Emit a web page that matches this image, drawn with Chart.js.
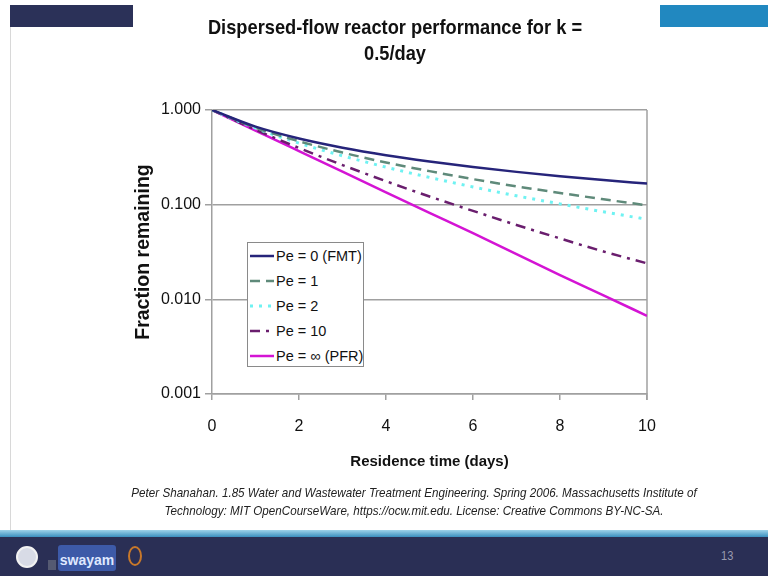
<!DOCTYPE html>
<html>
<head>
<meta charset="utf-8">
<script src="https://cdn.jsdelivr.net/npm/chart.js@4/dist/chart.umd.min.js"></script>
<style>
  html, body { margin:0; padding:0; background:#fff; }
  #wrap { position:relative; width:768px; height:576px; overflow:hidden; background:#fff; }
  #c { position:absolute; left:0; top:0; }
  .bar { position:absolute; }
  #title { position:absolute; left:95px; width:600px; top:14px; text-align:center; white-space:nowrap;
    font-family:"Liberation Sans",Arial,sans-serif; font-weight:bold;
    font-size:21px; line-height:26px; color:#111; transform:scaleX(0.87); transform-origin:50% 0; }
  #foot { position:absolute; left:64px; width:700px; top:484px; text-align:center; white-space:nowrap;
    font-family:"Liberation Sans",Arial,sans-serif; font-style:italic;
    font-size:13px; line-height:18px; color:#222; transform:scaleX(0.895); transform-origin:50% 0; }
  #legend { position:absolute; left:247px; top:242px; width:117px; height:125px; background:#fff;
    border:1px solid #8a8a8a; box-sizing:border-box; padding-top:0px;
    font-family:"Liberation Sans",Arial,sans-serif; font-size:14.5px; color:#111; }
  #legend .row { height:25px; display:flex; align-items:center; white-space:nowrap; }
  #legend svg { margin-left:2px; margin-right:2px; flex-shrink:0; }
  #pg { position:absolute; left:720px; top:548px; font-family:"Liberation Sans",sans-serif;
    font-size:13px; color:#9a9cb0; transform:scaleX(0.85); }
</style>
</head>
<body>
<div id="wrap">
  <div class="bar" style="left:10px;top:5px;width:123px;height:22px;background:#2b3158;"></div>
  <div class="bar" style="left:660px;top:5px;width:108px;height:22px;background:#2188c0;"></div>
  <div class="bar" style="left:10px;top:27px;width:1px;height:505px;background:#d8d8d8;"></div>
  <div class="bar" style="left:0;top:530px;width:768px;height:7px;background:linear-gradient(#9fd3ea,#3a8fbf);"></div>
  <div class="bar" style="left:0;top:537px;width:768px;height:39px;background:#2a2f55;"></div>
  <div class="bar" style="left:16px;top:546px;width:22px;height:22px;border-radius:50%;background:#d8dbe6;border:2px solid #f2f2f2;box-sizing:border-box;"></div>
  <div class="bar" style="left:48px;top:560px;width:8px;height:10px;background:#555a72;"></div>
  <div class="bar" style="left:58px;top:545px;width:58px;height:26px;border-radius:3px;background:#3d5aa8;color:#dfe8ff;font:bold 14px 'Liberation Sans',sans-serif;text-align:center;line-height:30px;">swayam</div>
  <div class="bar" style="left:128px;top:546px;width:14px;height:20px;border-radius:50%;border:2px solid #c8782a;box-sizing:border-box;"></div>
  <div id="pg">13</div>
  <canvas id="c" width="768" height="576"></canvas>
  <div id="title">Dispersed-flow reactor performance for k =<br>0.5/day</div>
  <div id="legend"></div>
  <div id="foot">Peter Shanahan. 1.85 Water and Wastewater Treatment Engineering. Spring 2006. Massachusetts Institute of<br>Technology: MIT OpenCourseWare, https://ocw.mit.edu. License: Creative Commons BY-NC-SA.</div>
</div>
<script>
// ---- data ----
const times = [0, 1, 2, 3, 4, 5, 6, 7, 8, 9, 10];
const pe0  = [1.000, 0.667, 0.500, 0.400, 0.333, 0.286, 0.250, 0.222, 0.200, 0.182, 0.167];
const pe1  = [1.000, 0.652, 0.468, 0.355, 0.279, 0.226, 0.186, 0.156, 0.133, 0.114, 0.0985];
const pe2  = [1.000, 0.643, 0.447, 0.328, 0.249, 0.194, 0.154, 0.124, 0.102, 0.084, 0.070];
const pe10 = [1.000, 0.619, 0.397, 0.262, 0.177, 0.122, 0.086, 0.061, 0.044, 0.032, 0.024];
const peInf = [1.000, 0.607, 0.368, 0.223, 0.135, 0.082, 0.050, 0.030, 0.018, 0.011, 0.0067];
const seriesLabels = ["Pe = 0 (FMT)", "Pe = 1", "Pe = 2", "Pe = 10", "Pe = \u221E (PFR)"];
const yTickValues = [0.001, 0.01, 0.1, 1];
const xTickValues = [0, 2, 4, 6, 8, 10];

const toXY = arr => arr.map((v, i) => ({ x: times[i], y: v }));
const styles = [
  { color: '#26247a', dash: [], width: 2.5 },
  { color: '#5f8a7a', dash: [10, 6], width: 2.5 },
  { color: '#6ff2f2', dash: [3, 6], width: 3 },
  { color: '#6a1e6e', dash: [10, 6, 3, 6], width: 2.5 },
  { color: '#d414d4', dash: [], width: 2.5 }
];
const allSeries = [pe0, pe1, pe2, pe10, peInf];
const datasets = allSeries.map((s, i) => ({
  label: seriesLabels[i],
  data: toXY(s),
  borderColor: styles[i].color,
  backgroundColor: styles[i].color,
  borderDash: styles[i].dash,
  borderWidth: styles[i].width,
  pointRadius: 0,
  fill: false,
  cubicInterpolationMode: 'monotone'
}));

const frame = {
  id: 'frame',
  beforeDatasetsDraw(chart) {
    const a = chart.chartArea, ctx = chart.ctx;
    ctx.save();
    ctx.strokeStyle = '#a0a0a0';
    ctx.lineWidth = 1.5;
    ctx.beginPath();
    ctx.moveTo(a.right, a.top);
    ctx.lineTo(a.right, a.bottom + 6);
    ctx.stroke();
    ctx.restore();
  }
};

const fontFam = '"Liberation Sans", Arial, sans-serif';
const chart = new Chart(document.getElementById('c'), {
  type: 'line',
  data: { datasets },
  plugins: [frame],
  options: {
    responsive: false,
    animation: false,
    devicePixelRatio: 1,
    layout: { padding: { left: 130, right: 121, top: 110, bottom: 102 } },
    plugins: { legend: { display: false }, title: { display: false }, tooltip: { enabled: false } },
    scales: {
      x: {
        type: 'linear', min: 0, max: 10,
        afterFit: s => { s.height = 80; },
        afterBuildTicks: s => { s.ticks = xTickValues.map(v => ({ value: v })); },
        grid: { drawOnChartArea: false, color: '#a0a0a0', lineWidth: 1.5, tickLength: 6 },
        border: { display: true, color: '#a0a0a0', width: 1.5 },
        ticks: { color: '#111', font: { family: fontFam, size: 16 }, padding: 17, maxRotation: 0 },
        title: { display: true, text: 'Residence time (days)', color: '#111',
          font: { family: fontFam, size: 15, weight: 'bold' }, padding: { top: 4, bottom: 3 } }
      },
      y: {
        type: 'logarithmic', min: 0.001, max: 1,
        afterFit: s => { s.width = 82; },
        afterBuildTicks: s => { s.ticks = yTickValues.map(v => ({ value: v })); },
        grid: { color: '#a0a0a0', lineWidth: 1.5, tickLength: 7 },
        border: { display: true, color: '#a0a0a0', width: 1.5 },
        ticks: { color: '#111', font: { family: fontFam, size: 16 }, padding: 4,
          callback: v => Number(v).toFixed(3) },
        title: { display: true, text: 'Fraction remaining', color: '#111',
          font: { family: fontFam, size: 19.5, weight: 'bold' }, padding: { top: 2, bottom: 2 } }
      }
    }
  }
});

// HTML legend built from the chart datasets
const leg = document.getElementById('legend');
chart.data.datasets.forEach(ds => {
  const row = document.createElement('div');
  row.className = 'row';
  const svgNS = 'http://www.w3.org/2000/svg';
  const svg = document.createElementNS(svgNS, 'svg');
  svg.setAttribute('width', '24'); svg.setAttribute('height', '10');
  const ln = document.createElementNS(svgNS, 'line');
  ln.setAttribute('x1', '0'); ln.setAttribute('x2', '24');
  ln.setAttribute('y1', '5'); ln.setAttribute('y2', '5');
  ln.setAttribute('stroke', ds.borderColor);
  ln.setAttribute('stroke-width', ds.borderWidth);
  if (ds.borderDash.length) ln.setAttribute('stroke-dasharray', ds.borderDash.join(' '));
  svg.appendChild(ln);
  const span = document.createElement('span');
  span.textContent = ds.label;
  row.appendChild(svg); row.appendChild(span);
  leg.appendChild(row);
});
</script>
</body>
</html>
